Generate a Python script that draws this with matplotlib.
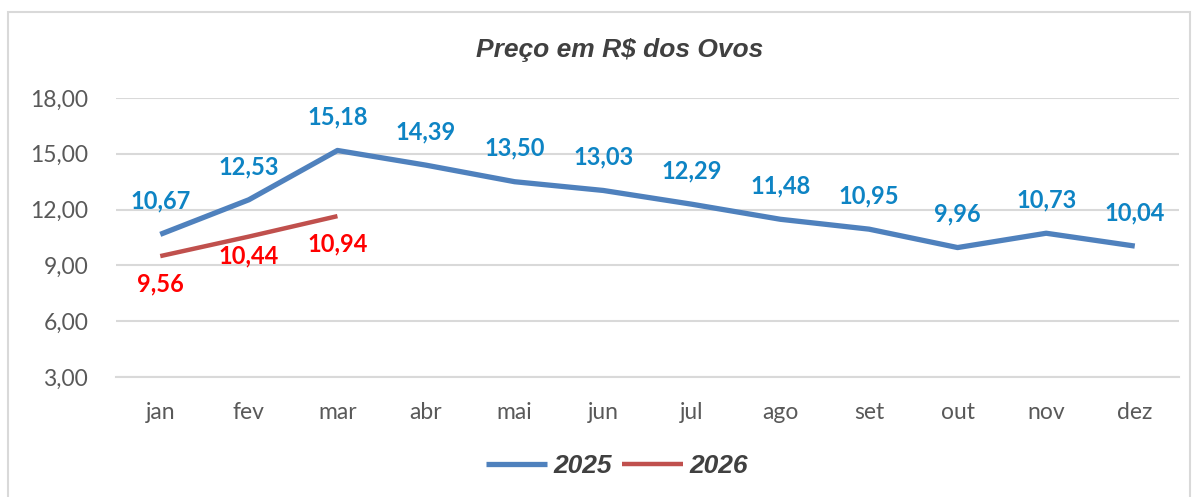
"""Preço em R$ dos Ovos: 2025 vs 2026, monthly line chart."""

import matplotlib

matplotlib.use("Agg")
import matplotlib.pyplot as plt
from matplotlib.patches import Rectangle

months = ["jan", "fev", "mar", "abr", "mai", "jun", "jul", "ago", "set", "out", "nov", "dez"]
price_2025 = [10.67, 12.53, 15.18, 14.39, 13.50, 13.03, 12.29, 11.48, 10.95, 9.96, 10.73, 10.04]
# 2026 line as drawn in the source; its data labels don't quite match the line
price_2026 = [9.50, 10.55, 11.65]
labels_2026 = ["9,56", "10,44", "10,94"]
yticks = [3, 6, 9, 12, 15, 18]

BLUE = "#4F81BD"
RED = "#C0504D"
LBL_BLUE = "#0E84C4"
LBL_RED = "#FF0000"
GREY_TXT = "#595959"
GRID = "#D9D9D9"

plt.rcParams["font.family"] = ["Lato", "DejaVu Sans"]

fig = plt.figure(figsize=(11.98, 4.97), dpi=100)
ax = fig.add_axes([0.0968, 0.2414, 0.8874, 0.5614])

# outer chart frame
fig.patches.append(Rectangle((8 / 1198, -0.01), 1182 / 1198, 1 - 12 / 497 + 0.01,
                             transform=fig.transFigure, fill=False,
                             edgecolor=GRID, lw=1.5))

x = list(range(len(months)))
ax.plot(x, price_2025, color=BLUE, lw=3.8, solid_capstyle="butt", label="2025", zorder=3)
ax.plot(x[:len(price_2026)], price_2026, color=RED, lw=3.2, solid_capstyle="butt",
        label="2026", zorder=3)

for xi, v in zip(x, price_2025):
    ax.annotate(f"{v:.2f}".replace(".", ","), (xi, v), xytext=(0, 24),
                textcoords="offset points", ha="center", va="center",
                color=LBL_BLUE, fontsize=17, fontweight="bold")

red_offsets = [-20, -14, -20]
for xi, v, s, dy in zip(x, price_2026, labels_2026, red_offsets):
    ax.annotate(s, (xi, v), xytext=(0, dy), textcoords="offset points",
                ha="center", va="center", color=LBL_RED, fontsize=17, fontweight="bold")

ax.set_xlim(-0.5, len(months) - 0.5)
ax.set_ylim(3, 18)
ax.set_yticks(yticks)
ax.set_yticklabels([f"{t:.2f}".replace(".", ",") for t in yticks])
ax.set_xticks(x)
ax.set_xticklabels(months)
ax.tick_params(axis="y", length=0, pad=20, labelsize=16.5, labelcolor=GREY_TXT)
ax.tick_params(axis="x", length=0, pad=18, labelsize=16.5, labelcolor=GREY_TXT)

ax.grid(axis="y", color=GRID, lw=1.5)
ax.set_axisbelow(True)
for side in ["top", "right", "left"]:
    ax.spines[side].set_visible(False)
ax.spines["bottom"].set_color(GRID)
ax.spines["bottom"].set_linewidth(1.5)

fig.text(0.517, 0.90, "Preço em R$ dos Ovos", ha="center", va="center",
         fontsize=19, fontstyle="italic", fontweight="bold", color="#404040",
         family=["Liberation Sans", "DejaVu Sans"])

leg = fig.legend(loc="center", bbox_to_anchor=(0.515, 0.062), ncol=2, frameon=False,
                 handlelength=2.3, handletextpad=0.25, columnspacing=0.4,
                 prop={"family": ["Liberation Sans", "DejaVu Sans"], "size": 19,
                       "style": "italic", "weight": "bold"})
for t in leg.get_texts():
    t.set_color("#404040")

fig.savefig("out.png", dpi=100)
